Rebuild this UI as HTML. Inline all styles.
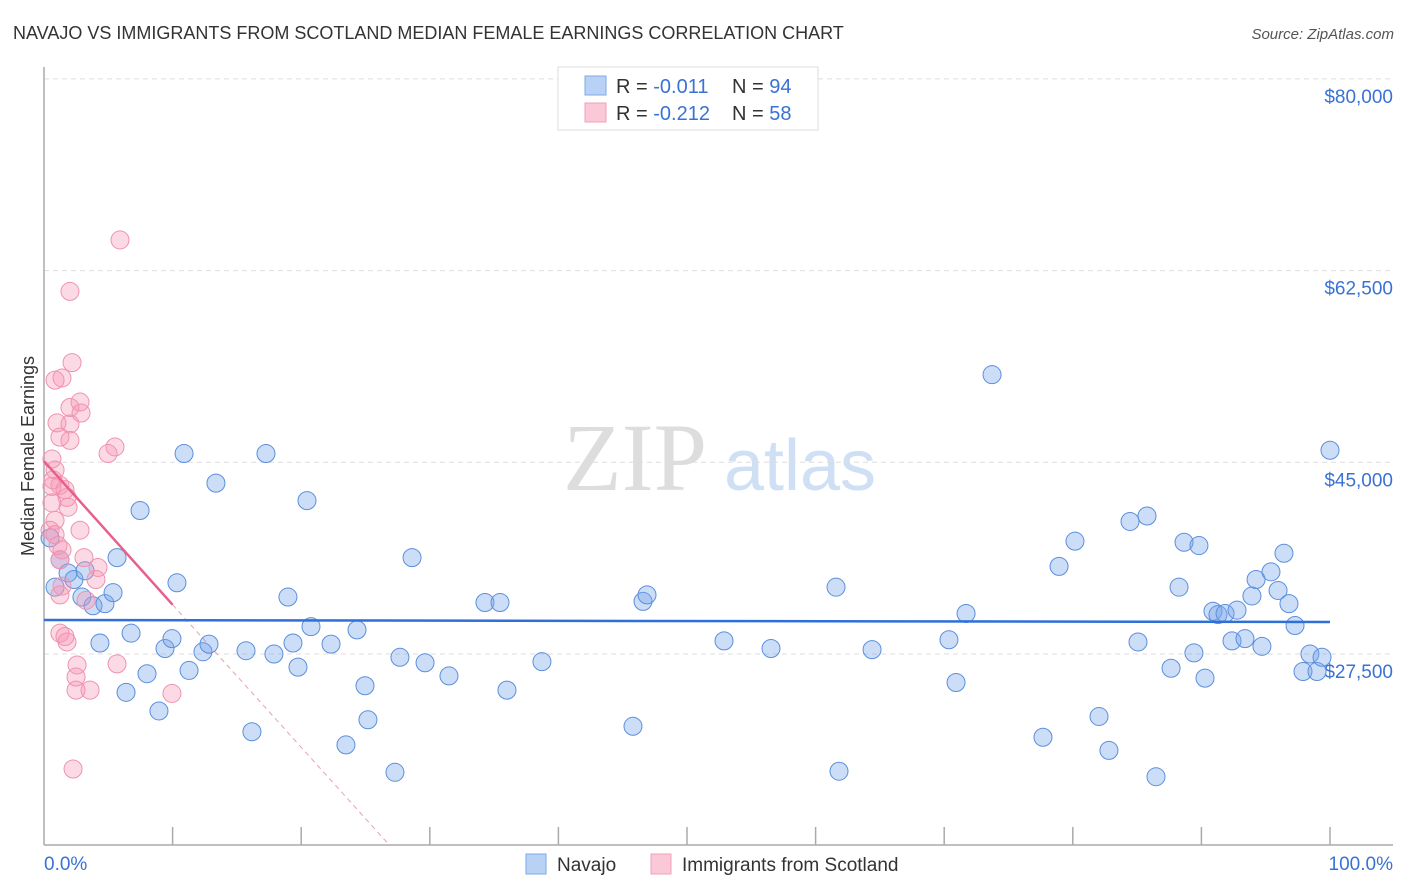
<!DOCTYPE html>
<html><head><meta charset="utf-8"><style>
body{margin:0;background:#fff;font-family:"Liberation Sans",sans-serif}
svg{display:block}
</style></head><body>
<svg id="chart" width="1406" height="892" xmlns="http://www.w3.org/2000/svg">
<text x="13" y="39" font-size="18" fill="#333" font-family="Liberation Sans">NAVAJO VS IMMIGRANTS FROM SCOTLAND MEDIAN FEMALE EARNINGS CORRELATION CHART</text>
<text x="1394" y="39" font-size="15" fill="#555" font-style="italic" text-anchor="end">Source: ZipAtlas.com</text>
<text transform="translate(34,456) rotate(-90)" font-size="18" fill="#333" text-anchor="middle">Median Female Earnings</text>
<g>
<text x="635" y="490" font-size="96" fill="#ddd" font-family="Liberation Serif" text-anchor="middle">ZIP</text>
<text x="800" y="490" font-size="72" fill="#cfe0f5" text-anchor="middle">atlas</text>
</g>
<g id="grid"></g><g id="axes"></g><g id="trends"></g><g id="points"></g>
<g>
<rect x="558" y="67" width="260" height="63" fill="#fff" stroke="#ddd"/>
<rect x="585" y="76" width="21" height="19" fill="#b8d2f5" stroke="#7ea9e6"/>
<rect x="585" y="103" width="21" height="19" fill="#fac8d6" stroke="#f0a0b8"/>
<text x="616" y="93" font-size="20" fill="#333">R = <tspan fill="#3a72d4">-0.011</tspan></text>
<text x="732" y="93" font-size="20" fill="#333">N = <tspan fill="#3a72d4">94</tspan></text>
<text x="616" y="120" font-size="20" fill="#333">R = <tspan fill="#3a72d4">-0.212</tspan></text>
<text x="732" y="120" font-size="20" fill="#333">N = <tspan fill="#3a72d4">58</tspan></text>
</g>
<g>
<rect x="526" y="854" width="20" height="20" fill="#b8d2f5" stroke="#7ea9e6"/>
<text x="557" y="871" font-size="19" fill="#333">Navajo</text>
<rect x="651" y="854" width="20" height="20" fill="#fac8d6" stroke="#f0a0b8"/>
<text x="682" y="871" font-size="19" fill="#333">Immigrants from Scotland</text>
</g>
</svg>
<script>
const yTicks=[27500,45000,62500,80000];
const yTickLabels=["$27,500","$45,000","$62,500","$80,000"];
const xTickLabels=["0.0%","100.0%"];
const navajoX=[0.86,1.24,1.87,2.33,3.19,2.95,3.81,4.74,5.37,5.68,4.35,6.38,6.77,7.47,8.01,8.94,9.41,9.95,10.34,10.89,11.28,12.36,12.83,13.37,15.71,16.17,17.26,17.88,18.97,19.36,19.75,20.45,20.76,22.32,23.48,24.34,24.96,25.19,27.29,27.68,28.62,29.63,31.49,34.29,35.46,36.0,38.72,45.8,46.58,46.89,52.88,56.53,61.59,61.82,64.39,70.37,70.92,71.7,73.72,77.68,78.93,80.17,82.04,82.81,84.45,85.07,85.77,86.47,87.64,88.26,88.65,89.42,89.81,90.28,90.9,91.29,91.84,92.38,92.77,93.39,93.93,94.25,94.71,95.41,95.96,96.42,96.81,97.28,97.9,98.44,98.99,99.38,100,0.47];
const navajoY=[33600,36100,34900,34300,35100,32700,31900,32100,33100,36300,28500,24000,29400,40600,25700,22300,28000,28900,34000,45800,26000,27700,28400,43100,27800,20400,45800,27500,32700,28500,26300,41500,30000,28400,19200,29700,24600,21500,16700,27200,36300,26700,25500,32200,32200,24200,26800,20900,32300,32900,28700,28000,33600,16800,27900,28800,24900,31200,53000,19900,35500,37800,21800,18700,39600,28600,40100,16300,26200,33600,37700,27600,37400,25300,31400,31100,31200,28700,31500,28900,32800,34300,28200,35000,33300,36700,32100,30100,25900,27500,25900,27200,46100,38100];
const scotX=[5.91,2.02,2.18,0.86,1.4,2.02,2.8,2.88,1.01,2.02,1.24,2.02,5.52,4.98,0.62,0.86,0.7,0.62,1.24,1.79,0.62,1.87,0.86,0.47,2.8,1.09,1.24,3.11,4.2,4.04,1.4,1.24,3.27,1.24,1.63,1.79,2.57,2.49,2.49,3.58,5.68,9.95,2.26,0.86,1.4,1.63];
const scotY=[65300,60600,54100,52500,52700,50000,50500,49500,48600,48500,47300,47000,46400,45800,45300,44300,43400,42800,42900,41800,41300,40900,39700,38800,38800,37400,36100,36300,35400,34300,33700,32900,32400,29400,29100,28600,26500,25400,24200,24200,26600,23900,17000,38400,37000,42500];
const navajoTrend=[30600,30420];
const scotTrend=[45100,32000,10000];
const scotTrendX=[0,10,26.9];
function xs(p){return 44+p*12.86;}
function ys(v){return 654-(v-27500)/17500*191.7;}
const NS="http://www.w3.org/2000/svg";
function mk(tag,parent,attrs){const e=document.createElementNS(NS,tag);for(const k in attrs)e.setAttribute(k,attrs[k]);document.getElementById(parent).appendChild(e);return e;}
yTicks.forEach((t,i)=>{
 const l=mk('line','grid',{x1:44,x2:1393,y1:ys(t),y2:ys(t),stroke:'#ddd','stroke-dasharray':'5,4'});
 
 
 const tx=mk('text','axes',{x:1393,y:ys(t)+24,'font-size':19,fill:'#3a72d4','text-anchor':'end'});
 tx.textContent=yTickLabels[i];
 
 
});
let ax=mk('line','axes',{x1:44,x2:44,y1:67,y2:845,stroke:'#aaa','stroke-width':1.5});


ax=mk('line','axes',{x1:44,x2:1393,y1:845,y2:845,stroke:'#aaa','stroke-width':1.5});


for(let i=1;i<=10;i++){
 const t=mk('line','axes',{x1:xs(i*10),x2:xs(i*10),y1:827,y2:845,stroke:'#aaa','stroke-width':1.5});
 
 
}
[[0,'start',44],[100,'end',1393]].forEach((d,i)=>{
 const t=mk('text','axes',{x:d[2],y:870,'font-size':19,fill:'#3a72d4','text-anchor':d[1]});
 t.textContent=xTickLabels[i];
 
 
});
// trend lines
let tl=mk('line','trends',{x1:xs(scotTrendX[1]),y1:ys(scotTrend[1]),x2:xs(scotTrendX[2]),y2:ys(scotTrend[2]),stroke:'#e8a0b4','stroke-width':1,'stroke-dasharray':'5,4'});


navajoX.forEach((x,i)=>{
 const c=mk('circle','points',{cx:xs(x),cy:ys(navajoY[i]),r:9,fill:'rgba(120,165,235,0.38)',stroke:'#5b8fdc','stroke-width':1});
 
 
});
scotX.forEach((x,i)=>{
 const c=mk('circle','points',{cx:xs(x),cy:ys(scotY[i]),r:9,fill:'rgba(245,150,180,0.35)',stroke:'#ef93ae','stroke-width':1});
 
 
});
tl=mk('line','points',{x1:xs(0),y1:ys(navajoTrend[0]),x2:xs(100),y2:ys(navajoTrend[1]),stroke:'#2e6fd8','stroke-width':2.5});


tl=mk('line','points',{x1:xs(scotTrendX[0]),y1:ys(scotTrend[0]),x2:xs(scotTrendX[1]),y2:ys(scotTrend[1]),stroke:'#e8608a','stroke-width':2.5});


</script>
</body></html>
